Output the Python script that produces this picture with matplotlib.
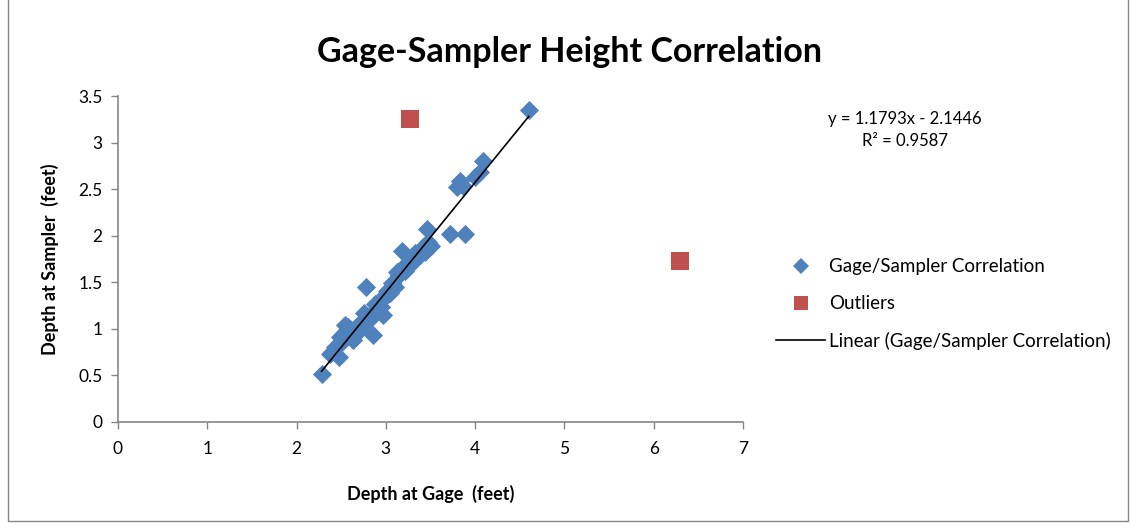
import matplotlib.pyplot as plt
from matplotlib.patches import Rectangle
from matplotlib.lines import Line2D

# Gage/Sampler readings (feet)
gage_depth = [2.28, 2.37, 2.40, 2.43, 2.47, 2.49, 2.50, 2.52, 2.54, 2.56, 2.58,
              2.60, 2.63, 2.65, 2.67, 2.70, 2.72, 2.75, 2.77, 2.78, 2.80, 2.82,
              2.86, 2.88, 2.90, 2.92, 2.95, 2.97, 3.00, 3.01, 3.05, 3.07, 3.10,
              3.12, 3.15, 3.18, 3.19, 3.22, 3.27, 3.30, 3.33, 3.38, 3.42, 3.44,
              3.46, 3.47, 3.51, 3.72, 3.80, 3.83, 3.86, 3.89, 4.00, 4.06, 4.09,
              4.60]
sampler_depth = [0.51, 0.73, 0.75, 0.80, 0.70, 0.91, 0.85, 0.95, 1.04, 0.98, 1.02,
                 1.00, 0.88, 0.97, 0.96, 1.05, 1.00, 1.17, 1.10, 1.45, 1.08, 1.15,
                 0.93, 1.27, 1.18, 1.30, 1.23, 1.15, 1.35, 1.41, 1.38, 1.49, 1.45,
                 1.61, 1.58, 1.84, 1.66, 1.62, 1.76, 1.72, 1.81, 1.79, 1.88, 1.82,
                 2.07, 1.93, 1.89, 2.02, 2.52, 2.59, 2.53, 2.02, 2.63, 2.68, 2.80,
                 3.35]

outlier_gage = [3.27, 6.30]
outlier_sampler = [3.25, 1.73]

# Trendline reported on the chart
slope = 1.1793
intercept = -2.1446
r_squared = 0.9587

blue = "#4F81BD"
red = "#C0504D"
grey = "#868686"

plt.rcParams["font.family"] = ["Lato", "DejaVu Sans"]

fig = plt.figure(figsize=(11.3, 5.29), dpi=100)
ax = fig.add_axes([0.1044, 0.2023, 0.5531, 0.6162])

ax.scatter(gage_depth, sampler_depth, marker="D", s=95, color=blue,
           linewidths=0, zorder=3)
ax.scatter(outlier_gage, outlier_sampler, marker="s", s=170, color=red,
           linewidths=0, zorder=3)

x_fit = [min(gage_depth), max(gage_depth)]
y_fit = [slope * x + intercept for x in x_fit]
ax.plot(x_fit, y_fit, color="black", linewidth=1.2, zorder=4)

ax.set_xlim(0, 7)
ax.set_ylim(0, 3.5)
ax.set_xticks(range(0, 8))
ax.set_yticks([0, 0.5, 1, 1.5, 2, 2.5, 3, 3.5])
ax.set_yticklabels(["0", "0.5", "1", "1.5", "2", "2.5", "3", "3.5"])
for side in ("top", "right"):
    ax.spines[side].set_visible(False)
for side in ("left", "bottom"):
    ax.spines[side].set_color(grey)
    ax.spines[side].set_linewidth(1.2)
ax.tick_params(axis="both", colors=grey, labelcolor="black", labelsize=12.5,
               length=5, width=1.0, direction="out")
ax.tick_params(axis="x", pad=9)
ax.tick_params(axis="y", pad=6)

ax.set_xlabel("Depth at Gage  (feet)", fontsize=13, fontweight="bold",
              labelpad=20)
ax.set_ylabel("Depth at Sampler  (feet)", fontsize=13, fontweight="bold",
              labelpad=14)

fig.text(0.504, 0.902, "Gage-Sampler Height Correlation", ha="center",
         va="center", fontsize=24.5, fontweight="bold")

fig.text(0.801, 0.775, f"y = {slope}x - {abs(intercept)}", ha="center",
         va="center", fontsize=12)
fig.text(0.801, 0.733, f"R\u00b2 = {r_squared}", ha="center", va="center",
         fontsize=12)

handles = [
    Line2D([], [], marker="D", linestyle="none", color=blue, markersize=8,
           markeredgewidth=0, label="Gage/Sampler Correlation"),
    Line2D([], [], marker="s", linestyle="none", color=red, markersize=10,
           markeredgewidth=0, label="Outliers"),
    Line2D([], [], color="black", linewidth=1.2,
           label="Linear (Gage/Sampler Correlation)"),
]
fig.legend(handles=handles, loc="center left", bbox_to_anchor=(0.672, 0.425),
           frameon=False, fontsize=13.5, labelspacing=1.05, handlelength=2.6,
           handletextpad=0.2)

fig.patches.append(Rectangle((0.007, 0.015), 0.991, 1.2, transform=fig.transFigure,
                             fill=False, edgecolor=grey, linewidth=1.0))

fig.savefig("out.png", dpi=100)
